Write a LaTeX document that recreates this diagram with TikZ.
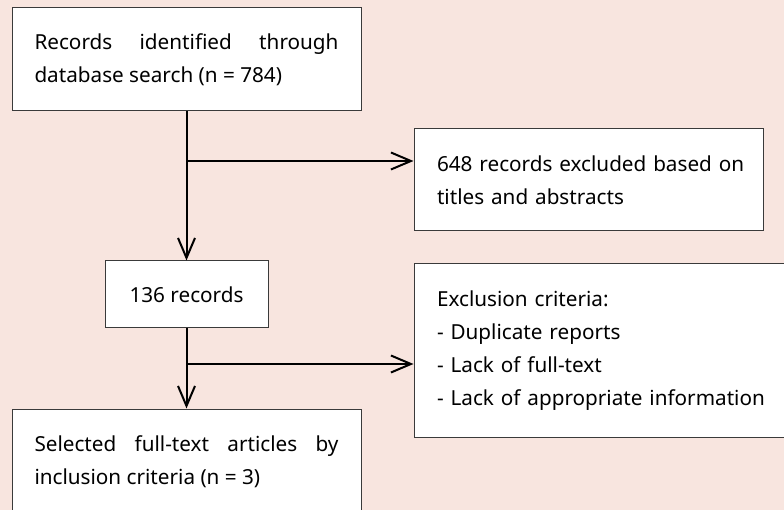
\documentclass[tikz,border=0pt]{standalone}
\usepackage{fontspec}
\setmainfont{Noto Sans}
\usetikzlibrary{arrows.meta}
\definecolor{bg}{HTML}{F8E5DF}
\definecolor{boxline}{HTML}{3A3A3A}
\hyphenpenalty=10000
\exhyphenpenalty=10000
\hfuzz=20pt
\begin{document}
\begin{tikzpicture}[x=1pt,y=-1pt,
  box/.style={draw=boxline, line width=1pt, fill=white, inner sep=0pt,
    font=\fontsize{20.7}{33}\selectfont},
  conn/.style={line width=2pt, draw=black},
  arr/.style={conn, -{Straight Barb[length=20pt,width=17pt,line width=2pt]}}]
\fill[bg] (0,0) rectangle (784,510);
\useasboundingbox (0,0) rectangle (784,510);

\node[box, minimum width=349pt, minimum height=103pt, text width=304pt, align=justify]
  (b1) at (186.5,59.5) {Records identified through\linebreak database search (n = 784)};
\node[box, minimum width=163pt, minimum height=67pt]
  (b2) at (186.5,294.5) {136 records};
\node[box, minimum width=349pt, minimum height=102pt, text width=303pt, align=left]
  (b3) at (588.5,180) {\mbox{648 records excluded based on}\\titles and abstracts};
\node[box, minimum width=386pt, minimum height=173pt, text width=340pt, align=left]
  (b4) at (607,350.5) {Exclusion criteria:\\- Duplicate reports\\- Lack of full-text\\- Lack of appropriate information};
\node[box, minimum width=349pt, minimum height=105pt, text width=304pt, align=justify]
  (b5) at (186.5,461.5) {Selected full-text articles by\linebreak inclusion criteria (n = 3)};

\coordinate (j1) at (186.5,161);
\coordinate (j2) at (186.5,364);
\draw[arr] (b1.south) -- (b2.north);
\draw[arr] (j1) -- (j1 -| b3.west);
\draw[arr] (b2.south) -- (b5.north);
\draw[arr] (j2) -- (j2 -| b4.west);
\end{tikzpicture}
\end{document}
